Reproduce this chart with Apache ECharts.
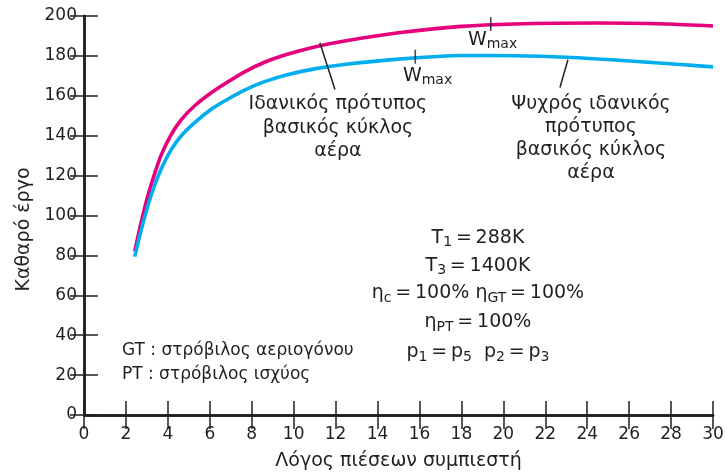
<!DOCTYPE html>
<html><head><meta charset="utf-8">
<script src="https://cdn.jsdelivr.net/npm/echarts@6/dist/echarts.min.js"></script>
<style>html,body{margin:0;padding:0;background:#fff}#c{width:727px;height:476px}</style>
</head><body><div id="c"></div>
<script>
// ---- data ----
const idealX = [2.42, 2.73, 3.05, 3.37, 3.69, 4.16, 4.64, 5.28, 6.07, 6.87, 7.66, 8.61, 9.7, 11, 12.5, 15, 18, 20.5, 24.5, 27.8, 30];
const idealY = [82, 96.8, 110, 121, 130.5, 140.5, 148, 155, 161.5, 167, 172, 176.8, 180.8, 184.5, 187.6, 191.6, 194.8, 196, 196.5, 196, 195];
const coldX = [2.42, 2.73, 3.05, 3.37, 3.69, 4.16, 4.64, 5.28, 6.07, 6.87, 7.66, 8.61, 9.7, 11, 12.5, 15, 18, 20.5, 23, 26.2, 30];
const coldY = [79.4, 92.7, 105, 115.2, 123.5, 133, 140, 146.6, 153.3, 158.4, 162.9, 167.1, 170.6, 173.5, 175.8, 178.4, 180.2, 180.1, 179.3, 177.3, 174.5];
const wmaxIdeal = [19.4, 196];
const wmaxCold = [15.8, 179.6];
const leaderIdeal = [[11.25, 186.6], [11.97, 163.2]];
const leaderCold = [[23.08, 178.1], [22.7, 164.2]];
const xTickValues = [0, 2, 4, 6, 8, 10, 12, 14, 16, 18, 20, 22, 24, 26, 28, 30];
const yTickValues = [0, 20, 40, 60, 80, 100, 120, 140, 160, 180, 200];
const xTitle = 'Λόγος πιέσεων συμπιεστή';
const yTitle = 'Καθαρό έργο';
const labelIdeal = 'Ιδανικός πρότυπος\nβασικός κύκλος\nαέρα';
const labelCold = 'Ψυχρός ιδανικός\nπρότυπος\nβασικός κύκλος\nαέρα';
const legendLines = ['GT : στρόβιλος αεριογόνου', 'PT : στρόβιλος ισχύος'];

const FONT = "'DejaVu Sans', 'Liberation Sans', Arial, sans-serif";
const DARK = '#231f20';
const MAGENTA = '#e6007e';
const CYAN = '#00aeef';

const zip = (xs, ys) => xs.map((x, i) => [x, ys[i]]);

const chart = echarts.init(document.getElementById('c'), null, {renderer: 'canvas'});

const axisCommon = {
  type: 'value', min: 0,
  axisLine: {show: true, lineStyle: {color: DARK, width: 2.5}},
  axisTick: {show: true, inside: true, length: 14, lineStyle: {color: DARK, width: 1.5}},
  splitLine: {show: false},
};

chart.setOption({
  animation: false,
  backgroundColor: '#fff',
  textStyle: {fontFamily: FONT},
  grid: {left: 84, right: 14, top: 16, bottom: 58, containLabel: false},
  xAxis: [
    Object.assign({}, axisCommon, {
      position: 'bottom', max: 30, interval: 2,
      name: xTitle, nameLocation: 'middle', nameGap: 37,
      nameTextStyle: {fontSize: 19, color: DARK, fontFamily: FONT},
      axisLabel: {fontSize: 17, color: DARK, margin: 11, fontFamily: FONT,
        formatter: v => xTickValues.includes(v) ? String(v) : ''}
    }),
    Object.assign({}, axisCommon, {
      position: 'top', max: 30, interval: 2, axisLabel: {show: false}
    })
  ],
  yAxis: [
    Object.assign({}, axisCommon, {
      position: 'left', max: 200, interval: 20,
      name: yTitle, nameLocation: 'middle', nameGap: 50,
      nameTextStyle: {fontSize: 19, color: DARK, fontFamily: FONT, padding: [0, 28, 0, 0]},
      axisLabel: {fontSize: 17, color: DARK, margin: 7, fontFamily: FONT,
        formatter: v => yTickValues.includes(v) ? String(v) : ''}
    }),
    Object.assign({}, axisCommon, {
      position: 'right', max: 200, interval: 20, axisLabel: {show: false}
    })
  ],
  series: [
    {type: 'line', data: zip(idealX, idealY), smooth: 0.25, symbol: 'none',
     lineStyle: {color: MAGENTA, width: 3.6}, z: 3},
    {type: 'line', data: zip(coldX, coldY), smooth: 0.25, symbol: 'none',
     lineStyle: {color: CYAN, width: 3.6}, z: 3},
    {type: 'scatter', data: [wmaxIdeal, wmaxCold], symbol: 'rect', symbolSize: [1.6, 14],
     itemStyle: {color: DARK}, z: 5, silent: true},
    {type: 'line', data: leaderIdeal, symbol: 'none', lineStyle: {color: DARK, width: 1.5}, z: 4},
    {type: 'line', data: leaderCold, symbol: 'none', lineStyle: {color: DARK, width: 1.5}, z: 4}
  ]
});

const px = (x, y) => chart.convertToPixel({gridIndex: 0}, [x, y]);
const mainStyle = {fontSize: 19, fontFamily: FONT, fill: DARK};
const rich = {
  n: {fontSize: 19, fontFamily: FONT, color: DARK, lineHeight: 22},
  s: {fontSize: 14, fontFamily: FONT, color: DARK, lineHeight: 14, padding: [10, 0, 0, 0]}
};
function richText(id, pos, text, align) {
  return {type: 'text', id, x: pos[0], y: pos[1], z: 10,
    style: {text, rich, fontSize: 19, fontFamily: FONT, fill: DARK,
      align: align || 'center', verticalAlign: 'middle'}};
}

const pIdeal = px(12.11, 144);
const pCold = px(24.18, 138.5);
const pWc = px(15.21, 170.1);
const pWi = px(18.31, 188.1);
const paramX = 18.79;
const paramYs = [88.8, 74.9, 61, 46.6, 31.6];
const T = '\u2009=\u2009';
const paramTexts = [
  '{n|T}{s|1}{n|' + T + '288K}',
  '{n|T}{s|3}{n|' + T + '1400K}',
  '{n|η}{s|c}{n|' + T + '100% η}{s|GT}{n|' + T + '100%}',
  '{n|η}{s|PT}{n|' + T + '100%}',
  '{n|p}{s|1}{n|' + T + 'p}{s|5}{n|  p}{s|2}{n|' + T + 'p}{s|3}'
];
const legendYs = [32.3, 20.4];

const graphics = [
  {type: 'text', id: 'lbl1', x: pIdeal[0], y: pIdeal[1], z: 10,
   style: Object.assign({text: labelIdeal, align: 'center', verticalAlign: 'middle', lineHeight: 23.5}, mainStyle)},
  {type: 'text', id: 'lbl2', x: pCold[0], y: pCold[1], z: 10,
   style: Object.assign({text: labelCold, align: 'center', verticalAlign: 'middle', lineHeight: 23}, mainStyle)},
  richText('wc', pWc, '{n|W}{s|max}', 'left'),
  richText('wi', pWi, '{n|W}{s|max}', 'left')
];
paramTexts.forEach((t, i) => graphics.push(richText('p' + i, px(paramX, paramYs[i]), t, 'center')));
legendLines.forEach((t, i) => {
  const p = px(1.81, legendYs[i]);
  graphics.push({type: 'text', id: 'lg' + i, x: p[0], y: p[1], z: 10,
    style: Object.assign({text: t, align: 'left', verticalAlign: 'middle'}, mainStyle, {fontSize: 17})});
});
chart.setOption({graphic: graphics});
</script>
</body></html>
